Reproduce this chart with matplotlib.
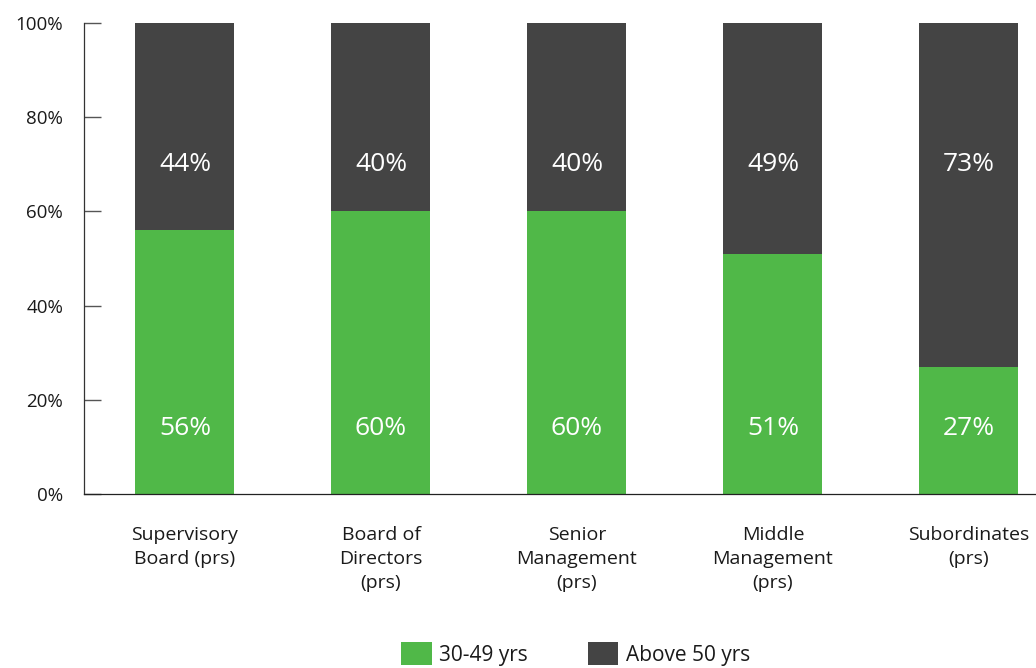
import numpy as np
import matplotlib
matplotlib.use("Agg")
import matplotlib.pyplot as plt
from matplotlib.patches import Patch

plt.rcParams['font.family'] = ['Open Sans', 'DejaVu Sans']

categories = ["Supervisory\nBoard (prs)", "Board of\nDirectors\n(prs)", "Senior\nManagement\n(prs)",
              "Middle\nManagement\n(prs)", "Subordinates\n(prs)"]
age_30_49 = [56, 60, 60, 51, 27]
above_50 = [44, 40, 40, 49, 73]
yticks = [0, 20, 40, 60, 80, 100]

green = "#50b848"
dark = "#444444"
txt = "#1a1a1a"

fig = plt.figure(figsize=(10.36, 6.68), dpi=100)
# axes run off the right edge on purpose
ax = fig.add_axes([84 / 1036, 1 - 494 / 668, 1000 / 1036, 471 / 668])

x = np.arange(len(categories))
w = 0.505
ax.bar(x, age_30_49, width=w, color=green, zorder=2)
ax.bar(x, above_50, width=w, bottom=age_30_49, color=dark, zorder=2)

for i in range(len(categories)):
    ax.text(x[i], 14, f"{age_30_49[i]}%", ha="center", va="center", color="white", fontsize=19)
    ax.text(x[i], 70, f"{above_50[i]}%", ha="center", va="center", color="white", fontsize=19)

ax.set_xlim(-0.515, -0.515 + 1000 / 196)
ax.set_ylim(0, 100)
ax.set_yticks(yticks)
ax.set_yticklabels([f"{v}%" for v in yticks], fontsize=13.5, color=txt)
ax.tick_params(axis="y", direction="in", length=12.5, width=1, color="#555555", pad=15)
ax.set_xticks(x)
ax.set_xticklabels(categories, fontsize=14, color=txt, linespacing=1.42, va="top")
ax.tick_params(axis="x", length=0, pad=23)

for s in ["top", "right"]:
    ax.spines[s].set_visible(False)
ax.spines["left"].set_color("#333333")
ax.spines["bottom"].set_color("#222222")
ax.spines["left"].set_linewidth(0.9)
ax.spines["bottom"].set_linewidth(0.9)

handles = [Patch(facecolor=green, label="30-49 yrs"), Patch(facecolor=dark, label="Above 50 yrs")]
fig.legend(handles=handles, loc="upper left", bbox_to_anchor=(393 / 1036, 1 - 634 / 668), ncol=2,
           frameon=False, fontsize=15, handlelength=1.45, handleheight=1.3, handletextpad=0.35,
           columnspacing=2.9, labelcolor=txt, borderaxespad=0, borderpad=0.4)

fig.savefig("out.png", dpi=100)
